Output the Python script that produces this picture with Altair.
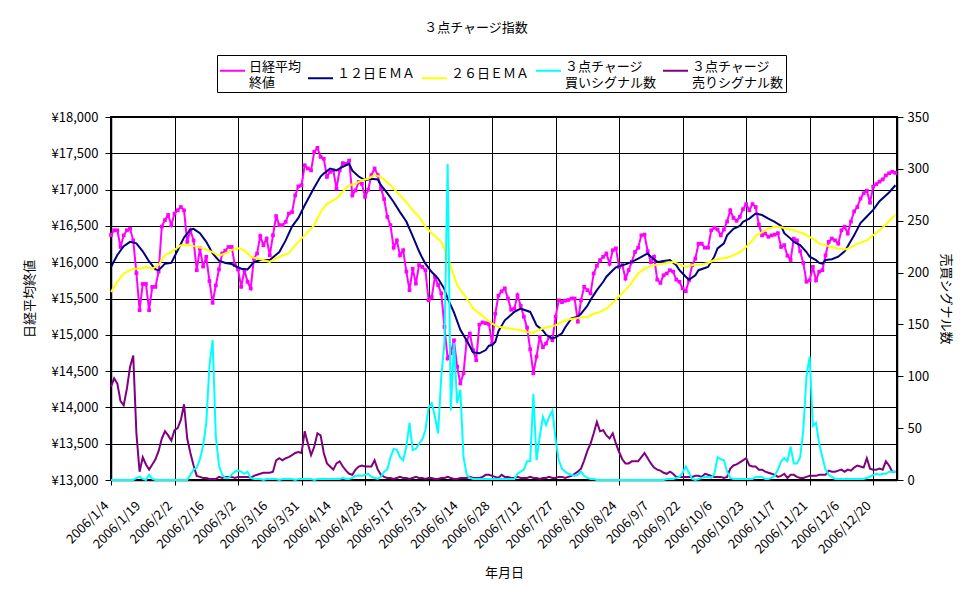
import json
import altair as alt
import pandas as pd

FONT = "Noto Sans CJK JP"

date_labels = ["2006/1/4", "2006/1/19", "2006/2/2", "2006/2/16", "2006/3/2", "2006/3/16",
               "2006/3/31", "2006/4/14", "2006/4/28", "2006/5/17", "2006/5/31", "2006/6/14",
               "2006/6/28", "2006/7/12", "2006/7/27", "2006/8/10", "2006/8/24", "2006/9/7",
               "2006/9/22", "2006/10/6", "2006/10/23", "2006/11/7", "2006/11/21", "2006/12/6",
               "2006/12/20"]

close = [
    16372, 16440, 16440, 16210, 16370, 16440, 16460, 16300, 15850, 15340,
    15700, 15700, 15340, 15660, 15660, 15870, 16490, 16580, 16650, 16510,
    16670, 16715, 16760, 16715, 16280, 16440, 16300, 15890, 16190, 15940,
    16075, 15740, 15440, 15680, 15900, 16120, 16160, 16210, 16210, 15960,
    15900, 15660, 15890, 15730, 15640, 16050, 16120, 16360, 16235, 16325,
    16095, 16370, 16635, 16510, 16510, 16555, 16670, 16690, 16920, 17045,
    17060, 17335, 17290, 17265, 17520, 17575, 17450, 17425, 17175, 17245,
    17265, 17015, 17265, 17365, 17355, 17400, 16920, 16990, 17105, 17080,
    16900, 17000, 17200, 17290, 17200, 17015, 16870, 16625, 16510, 16200,
    16300, 16095, 16165, 15870, 15615, 15910, 15705, 15960, 15935, 15890,
    15475, 15520, 15800, 15685, 15570, 15110, 14675, 14745, 14925, 14560,
    14330, 14470, 14925, 15015, 14790, 14650, 15140, 15170, 15160, 15150,
    14880, 15290, 15540, 15600, 15640, 15500, 15345, 15360, 15545, 15400,
    15250, 15100, 14800, 14470, 14700, 14970, 14830, 14880, 14970, 14925,
    15250, 15475, 15450, 15470, 15480, 15500, 15500, 15180, 15475, 15660,
    15615, 15570, 15845, 15950, 16030, 16075, 16120, 15980, 16165, 16190,
    15935, 15960, 15775, 15890, 16005, 16140, 16200, 16370, 16380, 16150,
    16000, 16075, 15760, 15715, 15820, 15845, 15890, 15870, 15760, 15730,
    15640, 15600, 15750, 15960, 16050, 16255, 16255, 16200, 16200, 16440,
    16475, 16450, 16370, 16450, 16560, 16715, 16610, 16570, 16625, 16730,
    16800, 16715, 16800, 16760, 16520, 16370, 16395, 16350, 16370, 16380,
    16400, 16210, 16235, 16090, 16030, 16325, 16300, 16150, 15990, 15730,
    15750, 15935, 15750, 15870, 15890, 16095, 16280, 16325, 16300, 16255,
    16440, 16490, 16395, 16560, 16700, 16760, 16875, 16950, 16985, 16820,
    17040, 17075, 17110, 17140, 17195, 17225, 17245, 17230]

ema12_day = [0, 2, 4, 6, 8, 10, 12, 14, 15, 17,
             19, 21, 23, 25, 26, 28, 30, 32, 34, 36,
             38, 40, 41, 43, 45, 47, 50, 53, 55, 57,
             59, 61, 64, 66, 67, 69, 71, 73, 75, 76,
             78, 80, 82, 84, 85, 87, 89, 91, 93, 95,
             97, 98, 99, 101, 103, 105, 106, 108, 110, 112,
             114, 116, 118, 119, 120, 121, 122, 124, 126, 127,
             129, 130, 132, 133, 134, 136, 137, 139, 140, 142,
             143, 145, 147, 148, 150, 151, 153, 155, 156, 158,
             159, 161, 162, 164, 166, 169, 170, 172, 173, 176,
             178, 179, 181, 182, 184, 185, 187, 188, 190, 191,
             193, 194, 196, 198, 199, 201, 203, 205, 207, 209,
             211, 212, 214, 215, 217, 219, 220, 222, 223, 224,
             225, 227, 229, 231, 232, 234, 236, 238, 240, 242,
             245, 247]
ema12_val = [15935, 16100, 16220, 16280, 16260, 16150, 16010, 15900, 15890, 15980,
             15990, 16165, 16340, 16450, 16460, 16400, 16280, 16120, 16020, 15990,
             15975, 15930, 15910, 15900, 16000, 16030, 16030, 16140, 16300, 16490,
             16610, 16785, 17030, 17180, 17220, 17290, 17265, 17315, 17355, 17260,
             17180, 17130, 17150, 17140, 17060, 16950, 16830, 16690, 16560, 16360,
             16150, 16060, 15980, 15865, 15775, 15630, 15500, 15310, 15070, 14920,
             14760, 14745, 14790, 14850, 14860, 14900, 15050, 15200, 15275, 15315,
             15360, 15345, 15315, 15225, 15130, 15060, 15000, 14950, 14965, 15020,
             15100, 15225, 15250, 15290, 15400, 15480, 15615, 15730, 15800, 15890,
             15930, 15960, 15970, 16005, 16050, 16120, 16075, 16005, 16010, 16030,
             15960, 15890, 15800, 15760, 15820, 15890, 15920, 15935, 16080, 16190,
             16260, 16370, 16460, 16500, 16555, 16600, 16670, 16650, 16600, 16555,
             16500, 16400, 16325, 16280, 16235, 16140, 16075, 16030, 15990, 15980,
             16030, 16040, 16075, 16150, 16220, 16370, 16540, 16630, 16720, 16840,
             16960, 17060]

ema26_day = [0, 2, 4, 7, 9, 11, 13, 15, 17, 19,
             22, 25, 29, 32, 34, 36, 38, 40, 42, 44,
             47, 50, 53, 56, 58, 61, 64, 66, 68, 71,
             73, 75, 77, 79, 81, 83, 85, 88, 91, 93,
             95, 97, 99, 101, 104, 106, 107, 109, 112, 114,
             116, 118, 120, 122, 125, 127, 129, 131, 133, 134,
             136, 138, 140, 142, 144, 146, 148, 150, 152, 154,
             156, 158, 160, 162, 164, 166, 168, 170, 172, 175,
             177, 179, 181, 183, 186, 188, 190, 192, 194, 196,
             198, 200, 202, 203, 205, 207, 209, 211, 213, 215,
             218, 220, 222, 223, 225, 227, 229, 231, 233, 235,
             238, 240, 242, 244, 245, 247]
ema26_val = [15590, 15730, 15845, 15910, 15910, 15935, 15910, 15960, 16100, 16140,
             16235, 16235, 16190, 16140, 16090, 16120, 16170, 16190, 16165, 16075,
             16040, 16005, 16075, 16120, 16235, 16370, 16510, 16690, 16805, 16875,
             16970, 17060, 17080, 17130, 17150, 17200, 17175, 17060, 16920, 16830,
             16715, 16625, 16490, 16400, 16280, 16075, 15935, 15685, 15500, 15365,
             15295, 15225, 15155, 15110, 15090, 15075, 15065, 15040, 15030, 15050,
             15090, 15110, 15130, 15180, 15210, 15225, 15240, 15245, 15290, 15315,
             15360, 15440, 15530, 15615, 15720, 15845, 15910, 15945, 15970, 15990,
             16005, 15970, 15935, 15960, 15970, 15990, 16030, 16050, 16060, 16095,
             16140, 16210, 16300, 16360, 16415, 16460, 16490, 16480, 16460, 16440,
             16395, 16350, 16295, 16255, 16235, 16210, 16190, 16175, 16200, 16255,
             16300, 16370, 16440, 16520, 16570, 16650]

buy_signals = [
    0, 0, 0, 0, 0, 0, 0, 0, 2, 3,
    1, 0, 5, 1, 0, 0, 0, 0, 0, 0,
    0, 0, 0, 0, 0, 5, 10, 12, 20, 33,
    55, 110, 135, 42, 14, 5, 2, 2, 5, 8,
    9, 8, 6, 8, 2, 1, 1, 1, 0, 1,
    1, 1, 1, 0, 1, 1, 1, 1, 0, 1,
    1, 1, 1, 1, 0, 1, 1, 1, 1, 1,
    1, 1, 1, 2, 1, 1, 2, 4, 4, 4,
    5, 6, 3, 2, 1, 3, 8, 10, 22, 30,
    29, 22, 19, 32, 55, 29, 30, 35, 39, 48,
    70, 74, 61, 45, 100, 132, 305, 67, 132, 74,
    87, 22, 5, 2, 1, 1, 1, 1, 1, 1,
    1, 1, 1, 1, 1, 1, 1, 1, 6, 8,
    10, 18, 18, 83, 19, 42, 61, 53, 61, 67,
    39, 19, 11, 8, 6, 5, 4, 5, 8, 4,
    2, 1, 1, 0, 0, 0, 0, 0, 0, 0,
    0, 0, 0, 0, 0, 0, 0, 0, 0, 0,
    0, 0, 0, 0, 0, 1, 1, 1, 2, 3,
    7, 13, 7, 1, 0, 1, 2, 3, 3, 2,
    6, 22, 20, 19, 8, 2, 1, 1, 1, 1,
    1, 1, 1, 3, 3, 3, 1, 1, 2, 4,
    10, 18, 21, 18, 32, 16, 16, 22, 48, 100,
    119, 52, 55, 35, 22, 10, 5, 3, 1, 1,
    1, 1, 1, 1, 1, 1, 1, 1, 2, 3,
    5, 6, 5, 6, 6, 8, 8, 8]

sell_signals = [
    90, 98, 93, 76, 72, 88, 109, 120, 45, 8,
    22, 15, 10, 15, 20, 28, 40, 47, 43, 38,
    48, 50, 58, 73, 40, 26, 14, 4, 3, 2,
    2, 1, 1, 1, 3, 2, 3, 3, 3, 2,
    3, 3, 3, 3, 2, 4, 5, 6, 7, 7,
    7, 8, 19, 21, 19, 21, 22, 24, 26, 27,
    26, 47, 35, 24, 32, 45, 43, 26, 16, 13,
    10, 16, 18, 13, 9, 6, 5, 10, 13, 14,
    13, 13, 13, 19, 10, 5, 3, 2, 2, 1,
    2, 3, 2, 2, 1, 2, 3, 2, 2, 1,
    2, 2, 1, 1, 2, 2, 3, 2, 1, 1,
    2, 2, 2, 3, 2, 2, 2, 3, 5, 5,
    4, 3, 2, 5, 3, 3, 2, 2, 3, 2,
    2, 2, 3, 2, 2, 1, 2, 2, 3, 2,
    2, 3, 3, 2, 3, 4, 6, 8, 11, 19,
    28, 35, 45, 56, 47, 48, 43, 40, 45, 35,
    27, 20, 16, 16, 18, 18, 18, 22, 26, 21,
    16, 12, 10, 9, 7, 6, 8, 6, 3, 3,
    3, 3, 3, 3, 4, 4, 3, 6, 5, 4,
    3, 3, 3, 2, 3, 11, 14, 15, 17, 19,
    21, 14, 13, 13, 10, 10, 8, 7, 6, 5,
    3, 4, 6, 2, 5, 5, 3, 2, 2, 3,
    4, 4, 4, 5, 5, 5, 9, 8, 8, 9,
    10, 8, 10, 9, 12, 14, 13, 12, 21, 11,
    10, 10, 11, 10, 18, 14, 8, 8]

series_names = ["日経平均|終値", "１２日ＥＭＡ", "２６日ＥＭＡ",
                "３点チャージ|買いシグナル数", "３点チャージ|売りシグナル数"]
series_colors = ["#FF00FF", "#000080", "#FFFF00", "#00FFFF", "#800080"]

days = list(range(len(close)))


def frame(d, v, name):
    return pd.DataFrame({"day": d, "v": v, "series": name})


df_close = frame(days, close, series_names[0])
df_e12 = frame(ema12_day, ema12_val, series_names[1])
df_e26 = frame(ema26_day, ema26_val, series_names[2])
df_buy = frame(days, buy_signals, series_names[3])
df_sell = frame(days, sell_signals, series_names[4])

every20 = {"condition": {"test": "datum.value % 20 === 0", "value": 1}, "value": 0}

x_enc = alt.X(
    "day:Q",
    scale=alt.Scale(domain=[0, len(close) - 0.5], nice=False, zero=False),
    axis=alt.Axis(
        values=list(range(0, 241, 10)),
        labelExpr=json.dumps(date_labels) + "[round(datum.value / 10)]",
        labelAngle=-45, labelPadding=14, labelOffset=-9, labelOverlap=False,
        labelFontSize=13,
        grid=True, gridOpacity=every20, tickOpacity=every20,
        tickSize=5, title="年月日", titlePadding=10,
    ),
)

color_enc = alt.Color(
    "series:N",
    scale=alt.Scale(domain=series_names, range=series_colors),
    legend=alt.Legend(
        title=None, orient="none", legendX=106, legendY=-62,
        direction="horizontal", columns=5,
        symbolType="stroke", symbolSize=625, symbolStrokeWidth=2,
        labelExpr="split(datum.label, '|')",
        labelFont=FONT, labelFontSize=13, labelColor="black", labelLimit=300,
        labelBaseline="alphabetic", labelOffset=3,
        strokeColor="black", fillColor="white", padding=2, columnPadding=2,
    ),
)

y_left = alt.Y(
    "v:Q",
    scale=alt.Scale(domain=[13000, 18000], nice=False, zero=False),
    axis=alt.Axis(
        values=list(range(13000, 18001, 500)),
        labelExpr="'¥' + format(datum.value, ',')",
        labelFontSize=13, labelPadding=7,
        grid=True, tickSize=6, title="日経平均終値", titlePadding=15,
    ),
)

y_right = alt.Y(
    "v:Q",
    scale=alt.Scale(domain=[0, 350], nice=False, zero=False),
    axis=alt.Axis(
        orient="right", values=list(range(0, 351, 50)),
        labelFontSize=13, labelPadding=4,
        grid=False, tickSize=6, title="売買シグナル数", titlePadding=10,
    ),
)

close_layer = alt.Chart(df_close).mark_line(
    strokeWidth=2,
    point=alt.OverlayMarkDef(shape="square", size=14, filled=True, color="#FF00FF"),
).encode(x=x_enc, y=y_left, color=color_enc)
e12_layer = alt.Chart(df_e12).mark_line(strokeWidth=2).encode(x=x_enc, y=y_left, color=color_enc)
e26_layer = alt.Chart(df_e26).mark_line(strokeWidth=2).encode(x=x_enc, y=y_left, color=color_enc)
buy_layer = alt.Chart(df_buy).mark_line(strokeWidth=2).encode(x=x_enc, y=y_right, color=color_enc)
sell_layer = alt.Chart(df_sell).mark_line(strokeWidth=2).encode(x=x_enc, y=y_right, color=color_enc)

left = alt.layer(close_layer, e12_layer, e26_layer)
right = alt.layer(sell_layer, buy_layer)

chart = alt.layer(left, right).resolve_scale(y="independent").properties(
    width=786, height=363,
    autosize=alt.AutoSizeParams(type="none"),
    padding={"left": 103, "top": 109, "right": 66, "bottom": 113},
    title=alt.TitleParams("３点チャージ指数", font=FONT, fontSize=13, fontWeight="normal",
                          color="black", anchor="middle", offset=20, dx=-28),
    background="white",
).configure(
    style={"guide-label": {"lineHeight": 16}},
).configure_view(
    stroke="black", strokeWidth=2, fill="white",
).configure_axis(
    domainColor="black", domainWidth=1.5, tickColor="black", gridColor="black", gridWidth=1,
    labelColor="black", titleColor="black", labelFont=FONT, titleFont=FONT,
    labelFontSize=12, titleFontSize=13, titleFontWeight="normal",
)

chart.save("out.html", embed_options={"renderer": "svg", "actions": False})
